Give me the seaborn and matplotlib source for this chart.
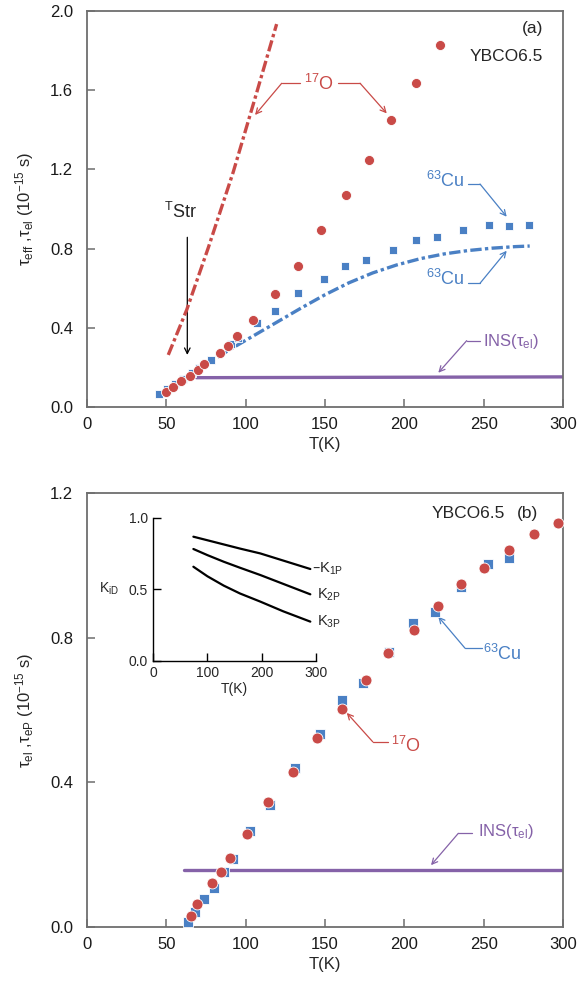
import matplotlib
matplotlib.use("Agg")
import matplotlib.pyplot as plt
import seaborn as sns

RED = "#c94a47"
BLUE = "#4a80c4"
PURPLE = "#8562a8"

# panel (a): YBCO6.5 effective relaxation times
o17_T = [49.6, 54.4, 59.4, 64.7, 69.9, 73.9, 83.8, 88.7, 94.5, 104.6, 118.5,
         133.2, 147.7, 163.2, 177.7, 191.8, 207.1, 222.6]
o17_tau = [0.077, 0.100, 0.131, 0.158, 0.187, 0.216, 0.274, 0.308, 0.359, 0.439,
           0.571, 0.714, 0.894, 1.071, 1.249, 1.449, 1.636, 1.830]

cu63_T = [45.6, 50.5, 55.5, 60.5, 66.0, 70.5, 78.3, 90.5, 95.0, 106.9, 118.5,
          132.8, 149.1, 162.6, 175.8, 192.6, 207.1, 220.3, 236.9, 253.1, 266.1, 278.3]
cu63_tau = [0.067, 0.092, 0.118, 0.140, 0.170, 0.195, 0.236, 0.318, 0.350, 0.426,
            0.485, 0.574, 0.646, 0.714, 0.744, 0.795, 0.845, 0.860, 0.892, 0.919,
            0.912, 0.919]

o17_fit_T = [51.2, 62.8, 76.5, 92.2, 106.9, 119.5]
o17_fit = [0.263, 0.490, 0.806, 1.188, 1.587, 1.934]

cu63_fit_T = [48.0, 60.0, 75.0, 90.0, 105.0, 120.0, 135.0, 150.0, 165.0, 180.0,
              195.0, 210.0, 225.0, 240.0, 255.0, 270.0, 279.0]
cu63_fit = [0.080, 0.140, 0.215, 0.290, 0.360, 0.430, 0.500, 0.567, 0.627, 0.677,
            0.717, 0.749, 0.773, 0.790, 0.802, 0.810, 0.813]

ins_a_T = [69.0, 300.0]
ins_a = [0.148, 0.152]

# panel (b): electronic relaxation times
o17_b_T = [65.5, 69.1, 79.0, 84.4, 90.1, 100.6, 114.3, 129.6, 144.7, 160.5,
           175.8, 189.9, 205.8, 220.9, 235.7, 250.3, 266.1, 281.9, 296.6]
o17_b = [0.030, 0.064, 0.122, 0.151, 0.192, 0.258, 0.346, 0.428, 0.523, 0.603,
         0.683, 0.757, 0.821, 0.887, 0.948, 0.992, 1.043, 1.087, 1.118]

cu63_b_T = [63.4, 68.0, 73.9, 80.2, 86.3, 92.2, 102.7, 115.3, 131.1, 146.8,
            160.5, 174.1, 190.5, 205.6, 219.3, 235.7, 252.5, 265.7]
cu63_b = [0.015, 0.042, 0.077, 0.109, 0.153, 0.188, 0.265, 0.337, 0.440, 0.533,
          0.628, 0.674, 0.761, 0.840, 0.872, 0.941, 1.004, 1.020]

ins_b_T = [61.0, 300.0]
ins_b = [0.158, 0.158]

# inset: K_iD vs T
k_T = [74.0, 100.0, 130.0, 160.0, 197.6, 240.0, 290.0]
k1p = [0.867, 0.842, 0.813, 0.784, 0.750, 0.700, 0.641]
k2p = [0.781, 0.738, 0.692, 0.650, 0.599, 0.537, 0.464]
k3p = [0.657, 0.590, 0.525, 0.470, 0.413, 0.345, 0.273]

sns.set_theme(style="ticks")
plt.rcParams["font.family"] = ["Liberation Sans", "DejaVu Sans"]
plt.rcParams["mathtext.default"] = "regular"

fig = plt.figure(figsize=(5.79, 9.84), dpi=100)
ax_a = fig.add_axes([0.1503, 0.5864, 0.8221, 0.4024])
ax_b = fig.add_axes([0.1503, 0.0579, 0.8221, 0.4411])
ax_in = fig.add_axes([0.2648, 0.3286, 0.2805, 0.1453])


def style_main(ax, ymax):
    ax.set_xlim(0, 300)
    ax.set_ylim(0, ymax)
    ax.set_xticks(range(0, 301, 50))
    ax.set_yticks([i * 0.4 for i in range(int(round(ymax / 0.4)) + 1)])
    ax.yaxis.set_major_formatter(matplotlib.ticker.FormatStrFormatter("%.1f"))
    for s in ax.spines.values():
        s.set_color("#6e6e6e")
        s.set_linewidth(1.3)
    ax.tick_params(direction="in", length=6, width=1.1, color="#6e6e6e",
                   labelsize=12, labelcolor="#1a1a1a", top=False, right=False)
    ax.tick_params(axis="y", pad=10)
    ax.tick_params(axis="x", pad=7)
    ax.set_xlabel("T(K)", fontsize=12, labelpad=4)


def callout(ax, pts, color):
    xs, ys = zip(*pts[:-1])
    ax.plot(xs, ys, color=color, lw=0.9)
    ax.annotate("", xy=pts[-1], xytext=pts[-2],
                arrowprops=dict(arrowstyle="->", color=color, lw=0.9,
                                shrinkA=0, shrinkB=0, mutation_scale=10))


dashdot = (0, (3.4, 1.0, 1.0, 1.0))

# ---- panel (a)
sns.lineplot(x=ins_a_T, y=ins_a, ax=ax_a, color=PURPLE, lw=2.4, zorder=2)
sns.lineplot(x=cu63_fit_T, y=cu63_fit, ax=ax_a, color=BLUE, lw=2.4,
             linestyle=dashdot, zorder=3)
sns.scatterplot(x=cu63_T, y=cu63_tau, ax=ax_a, marker="s", color=BLUE, s=38,
                edgecolor="white", linewidth=0.6, zorder=4)
sns.scatterplot(x=o17_T, y=o17_tau, ax=ax_a, marker="o", color=RED, s=52,
                edgecolor="white", linewidth=0.6, zorder=5)
sns.lineplot(x=o17_fit_T, y=o17_fit, ax=ax_a, color=RED, lw=2.4,
             linestyle=dashdot, zorder=6)
style_main(ax_a, 2.0)
ax_a.set_ylabel(r"$\tau_{eff}$ ,$\tau_{el}$ (10$^{-15}$ s)", fontsize=12)
ax_a.yaxis.set_label_coords(-0.108, 0.5)

ax_a.text(287.5, 1.91, "(a)", fontsize=12.5, ha="right", va="center")
ax_a.text(287.5, 1.768, "YBCO6.5", fontsize=12.5, ha="right", va="center")

ax_a.text(146, 1.63, "$^{17}$O", fontsize=13, color=RED, ha="center", va="center")
callout(ax_a, [(134.2, 1.635), (122.7, 1.635), (105.9, 1.475)], RED)
callout(ax_a, [(158.2, 1.635), (172.1, 1.635), (188.9, 1.483)], RED)

ax_a.text(226, 1.14, "$^{63}$Cu", fontsize=13, color=BLUE, ha="center", va="center")
callout(ax_a, [(240.0, 1.126), (247.7, 1.126), (264.5, 0.961)], BLUE)
ax_a.text(226, 0.645, "$^{63}$Cu", fontsize=13, color=BLUE, ha="center", va="center")
callout(ax_a, [(240.0, 0.625), (247.7, 0.625), (264.5, 0.789)], BLUE)

ax_a.text(267, 0.33, r"INS($\tau_{el}$)", fontsize=12, color=PURPLE,
          ha="center", va="center")
callout(ax_a, [(247.7, 0.335), (239.3, 0.335), (221.4, 0.173)], PURPLE)

ax_a.text(59.2, 0.985, "$^{T}$Str", fontsize=13, ha="center", va="center")
ax_a.annotate("", xy=(63.2, 0.263), xytext=(63.2, 0.857),
              arrowprops=dict(arrowstyle="->", color="black", lw=0.9,
                              shrinkA=0, shrinkB=0, mutation_scale=10))

# ---- panel (b)
sns.lineplot(x=ins_b_T, y=ins_b, ax=ax_b, color=PURPLE, lw=2.4, zorder=2)
sns.scatterplot(x=cu63_b_T, y=cu63_b, ax=ax_b, marker="s", color=BLUE, s=42,
                edgecolor="white", linewidth=0.6, zorder=4)
sns.scatterplot(x=o17_b_T, y=o17_b, ax=ax_b, marker="o", color=RED, s=62,
                edgecolor="white", linewidth=0.6, zorder=5)
style_main(ax_b, 1.2)
ax_b.set_ylabel(r"$\tau_{el}$ ,$\tau_{eP}$ (10$^{-15}$ s)", fontsize=12)
ax_b.yaxis.set_label_coords(-0.108, 0.5)

ax_b.text(240, 1.142, "YBCO6.5", fontsize=12.5, ha="center", va="center")
ax_b.text(277.5, 1.142, "(b)", fontsize=12.5, ha="center", va="center")

ax_b.text(262, 0.755, "$^{63}$Cu", fontsize=13, color=BLUE, ha="center", va="center")
callout(ax_b, [(248.7, 0.771), (238.2, 0.771), (221.4, 0.858)], BLUE)
ax_b.text(201, 0.5, "$^{17}$O", fontsize=13, color=RED, ha="center", va="center")
callout(ax_b, [(189.9, 0.512), (180.1, 0.512), (163.7, 0.592)], RED)
ax_b.text(264, 0.263, r"INS($\tau_{el}$)", fontsize=12, color=PURPLE,
          ha="center", va="center")
callout(ax_b, [(242.5, 0.259), (234.0, 0.259), (216.8, 0.171)], PURPLE)

# ---- inset
for vals in (k1p, k2p, k3p):
    sns.lineplot(x=k_T, y=vals, ax=ax_in, color="black", lw=1.6)
ax_in.set_xlim(0, 300)
ax_in.set_ylim(0, 1.0)
ax_in.set_xticks([0, 100, 200, 300])
ax_in.set_yticks([0.0, 0.5, 1.0])
ax_in.yaxis.set_major_formatter(matplotlib.ticker.FormatStrFormatter("%.1f"))
ax_in.patch.set_alpha(0)
for side in ("top", "right"):
    ax_in.spines[side].set_visible(False)
for side in ("left", "bottom"):
    ax_in.spines[side].set_color("black")
    ax_in.spines[side].set_linewidth(1.0)
ax_in.tick_params(direction="in", length=6, width=1.0, color="black",
                  labelsize=10, pad=4)
ax_in.set_xlabel("T(K)", fontsize=10, labelpad=1)
ax_in.text(-0.27, 0.5, "K$_{iD}$", transform=ax_in.transAxes, fontsize=10,
           ha="center", va="center")
ax_in.text(294, 0.641, "\u2013K$_{1P}$", fontsize=10.5, ha="left", va="center")
ax_in.text(303, 0.464, "K$_{2P}$", fontsize=10.5, ha="left", va="center")
ax_in.text(303, 0.273, "K$_{3P}$", fontsize=10.5, ha="left", va="center")

fig.savefig("out.png", dpi=100)
